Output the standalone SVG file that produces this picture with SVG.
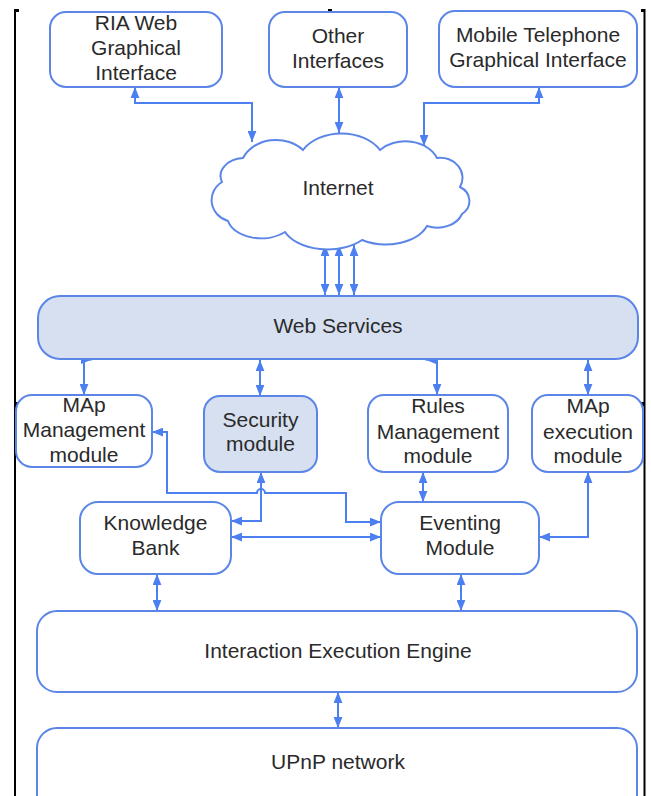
<svg xmlns="http://www.w3.org/2000/svg" width="651" height="796" viewBox="0 0 651 796">
<style>
.box{fill:#ffffff;stroke:#5b86e8;stroke-width:2}
.blue{fill:#d6e0f0}
.t{font-family:"Liberation Sans",Arial,sans-serif;font-size:21px;fill:#2a2a2a;text-anchor:middle}
.c{fill:none;stroke:#4c7ff0;stroke-width:2}
.frame{stroke:#000000;stroke-width:2;fill:none}
</style>
<defs>
<marker id="ah" viewBox="0 0 10 8" refX="10" refY="4" markerWidth="11" markerHeight="9" markerUnits="userSpaceOnUse" orient="auto-start-reverse">
<path d="M0,0 L10,4 L0,8 z" fill="#4c7ff0"/>
</marker>
</defs>
<g id="frame">
<line class="frame" x1="15" y1="9" x2="15" y2="796"/>
<line class="frame" x1="644.5" y1="9" x2="644.5" y2="796"/>
<rect x="15" y="9" width="4" height="3" fill="#000"/>
<rect x="328" y="9" width="4" height="3" fill="#000"/>
<rect x="641" y="9" width="4" height="3" fill="#000"/>
<rect x="15" y="402" width="4" height="4" fill="#000"/>
<rect x="641" y="402" width="4" height="4" fill="#000"/>
</g>
<g id="connectors">
<path class="c" d="M135,87 V103 H252 V142" marker-start="url(#ah)" marker-end="url(#ah)"/>
<path class="c" d="M339,87 V133" marker-start="url(#ah)" marker-end="url(#ah)"/>
<path class="c" d="M539,87 V103 H424 V146" marker-start="url(#ah)" marker-end="url(#ah)"/>
<path class="c" d="M325,245 V295" marker-start="url(#ah)" marker-end="url(#ah)"/>
<path class="c" d="M339,245 V295" marker-start="url(#ah)" marker-end="url(#ah)"/>
<path class="c" d="M354,245 V295" marker-start="url(#ah)" marker-end="url(#ah)"/>
<path class="c" d="M84,360 V395" marker-end="url(#ah)"/>
<path class="c" d="M84,359.5 H92" marker-end="url(#ah)"/>
<path class="c" d="M260,360 V396" marker-start="url(#ah)" marker-end="url(#ah)"/>
<path class="c" d="M437,360 V395" marker-end="url(#ah)"/>
<path class="c" d="M437,359.5 H425" marker-end="url(#ah)"/>
<path class="c" d="M588,360 V395" marker-start="url(#ah)" marker-end="url(#ah)"/>
<path class="c" d="M261,472 V521 H231" marker-start="url(#ah)" marker-end="url(#ah)"/>
<path class="c" d="M152,432 H167 V493 H257 A4 4 0 0 1 265 493 H346 V522 H381" marker-start="url(#ah)" marker-end="url(#ah)"/>
<path class="c" d="M231,537 H381" marker-start="url(#ah)" marker-end="url(#ah)"/>
<path class="c" d="M423,472 V502" marker-start="url(#ah)" marker-end="url(#ah)"/>
<path class="c" d="M588,472 V537 H539" marker-start="url(#ah)" marker-end="url(#ah)"/>
<path class="c" d="M157,574 V611" marker-start="url(#ah)" marker-end="url(#ah)"/>
<path class="c" d="M461,574 V611" marker-start="url(#ah)" marker-end="url(#ah)"/>
<path class="c" d="M338,692 V728" marker-start="url(#ah)" marker-end="url(#ah)"/>
</g>
<g id="ria">
<rect class="box" x="50" y="12" width="172" height="75" rx="16"/>
<text class="t" x="136" y="30">RIA Web</text>
<text class="t" x="136" y="55">Graphical</text>
<text class="t" x="136" y="80">Interface</text>
</g>
<g id="other">
<rect class="box" x="269" y="12" width="138" height="75" rx="16"/>
<text class="t" x="338" y="43">Other</text>
<text class="t" x="338" y="68">Interfaces</text>
</g>
<g id="mobile">
<rect class="box" x="439" y="11" width="198" height="76" rx="16"/>
<text class="t" x="538" y="42">Mobile Telephone</text>
<text class="t" x="538" y="67">Graphical Interface</text>
</g>
<g id="internet">
<path class="box" d="M243,158 A36 30 0 0 1 303,150 A44 32 0 0 1 380,150 A34 26 0 0 1 437,158 A22 20 0 0 1 460,187 A18 16 0 0 1 462,214 A26 20 0 0 1 427,226 A44 28 0 0 1 362,240 A46 28 0 0 1 285,232 A34 22 0 0 1 228,221 A24 22 0 0 1 222,182 A24 18 0 0 1 243,158 Z"/>
<text class="t" x="338" y="195">Internet</text>
</g>
<g id="webservices">
<rect class="box blue" x="38" y="296" width="600" height="63" rx="22"/>
<text class="t" x="338" y="333">Web Services</text>
</g>
<g id="mapmgmt">
<rect class="box" x="16" y="395" width="136" height="72" rx="16"/>
<text class="t" x="84" y="412">MAp</text>
<text class="t" x="84" y="437">Management</text>
<text class="t" x="84" y="462">module</text>
</g>
<g id="security">
<rect class="box blue" x="204" y="396" width="113" height="76" rx="16"/>
<text class="t" x="260.5" y="427">Security</text>
<text class="t" x="260.5" y="451">module</text>
</g>
<g id="rules">
<rect class="box" x="368" y="395" width="140" height="77" rx="16"/>
<text class="t" x="438" y="413">Rules</text>
<text class="t" x="438" y="439">Management</text>
<text class="t" x="438" y="463">module</text>
</g>
<g id="mapexec">
<rect class="box" x="532" y="395" width="111" height="77" rx="16"/>
<text class="t" x="588" y="413">MAp</text>
<text class="t" x="588" y="439">execution</text>
<text class="t" x="588" y="463">module</text>
</g>
<g id="knowledge">
<rect class="box" x="80" y="502" width="151" height="72" rx="18"/>
<text class="t" x="155.5" y="530">Knowledge</text>
<text class="t" x="155.5" y="555">Bank</text>
</g>
<g id="eventing">
<rect class="box" x="381" y="502" width="158" height="72" rx="18"/>
<text class="t" x="460" y="530">Eventing</text>
<text class="t" x="460" y="555">Module</text>
</g>
<g id="iee">
<rect class="box" x="37" y="611" width="600" height="81" rx="20"/>
<text class="t" x="338" y="658">Interaction Execution Engine</text>
</g>
<g id="upnp">
<rect class="box" x="37" y="728" width="600" height="90" rx="20"/>
<text class="t" x="338" y="769">UPnP network</text>
</g>
</svg>
